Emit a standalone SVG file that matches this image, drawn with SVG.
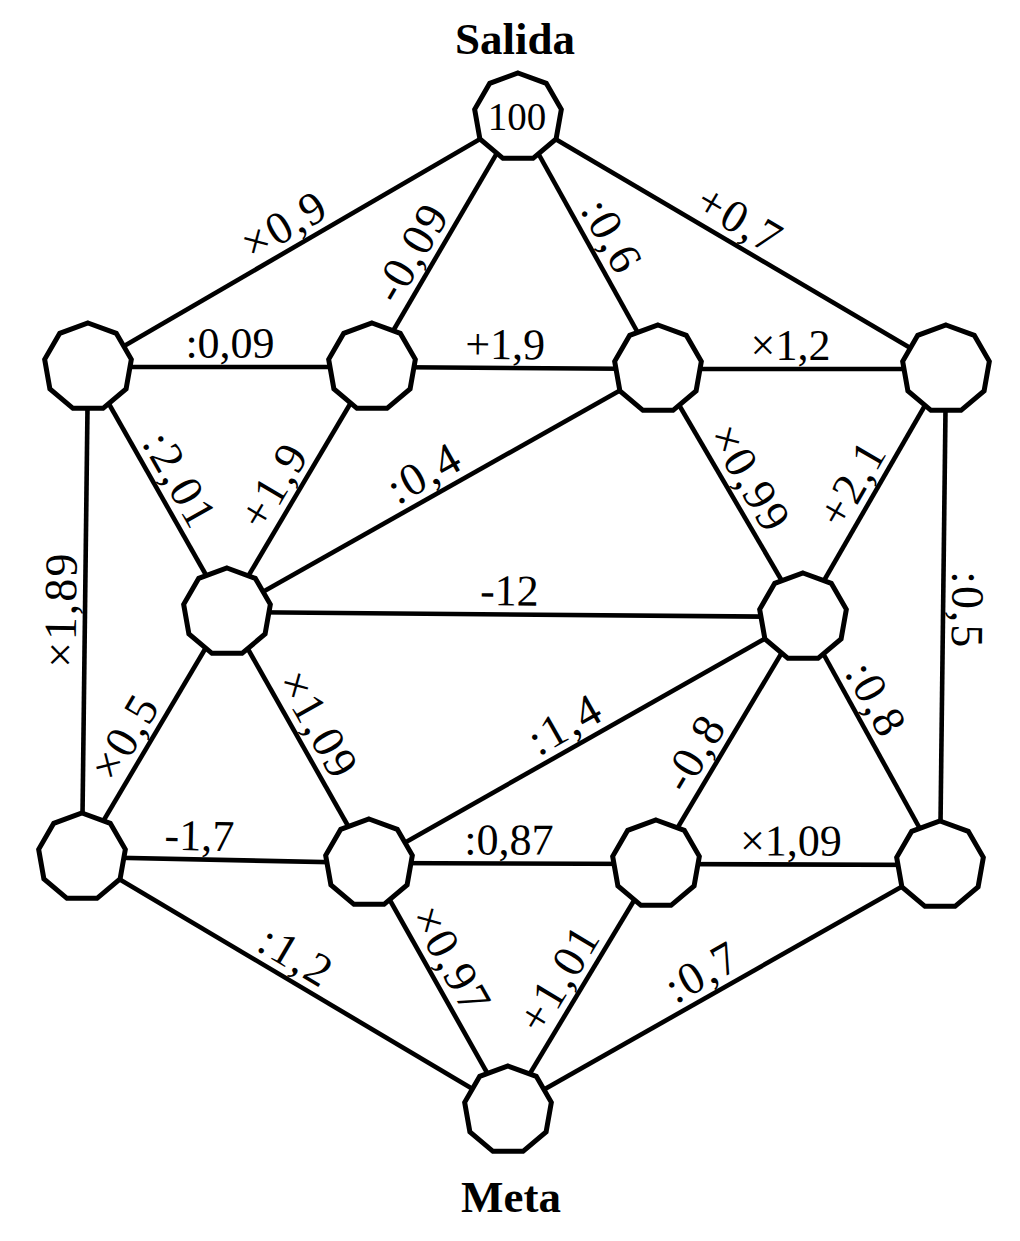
<svg xmlns="http://www.w3.org/2000/svg" xmlns:xlink="http://www.w3.org/1999/xlink" width="1020" height="1241" viewBox="0 0 1020 1241">
<style>
.edge{stroke:#000;stroke-width:4.6;fill:none;stroke-linecap:butt}
.node{fill:#fff;stroke:#000;stroke-width:5;stroke-linejoin:miter}
.lbl{font-family:"Liberation Serif","Times New Roman",serif;font-size:44px;fill:#000;text-anchor:middle}
.rot{font-size:46px;letter-spacing:2px}
.title{font-family:"Liberation Serif","Times New Roman",serif;font-size:45px;font-weight:bold;fill:#000;text-anchor:middle}
.num{font-family:"Liberation Serif","Times New Roman",serif;font-size:39px;fill:#000;text-anchor:middle}
</style>
<defs>
<polygon id="nona" points="0,-44 28.28,-33.71 43.33,-7.64 38.11,22 15.05,41.35 -15.05,41.35 -38.11,22 -43.33,-7.64 -28.28,-33.71"/>
</defs>
<rect width="1020" height="1241" fill="#fff"/>
<g id="connectors">
<line class="edge" x1="518" y1="117" x2="88" y2="367"/>
<line class="edge" x1="518" y1="117" x2="372" y2="367"/>
<line class="edge" x1="518" y1="117" x2="658" y2="369"/>
<line class="edge" x1="518" y1="117" x2="946" y2="369"/>
<line class="edge" x1="88" y1="367" x2="372" y2="367"/>
<line class="edge" x1="372" y1="367" x2="658" y2="369"/>
<line class="edge" x1="658" y1="369" x2="946" y2="369"/>
<line class="edge" x1="88" y1="367" x2="227" y2="612"/>
<line class="edge" x1="372" y1="367" x2="227" y2="612"/>
<line class="edge" x1="658" y1="369" x2="227" y2="612"/>
<line class="edge" x1="88" y1="367" x2="82" y2="857"/>
<line class="edge" x1="658" y1="369" x2="803" y2="617"/>
<line class="edge" x1="946" y1="369" x2="803" y2="617"/>
<line class="edge" x1="946" y1="369" x2="940" y2="865"/>
<line class="edge" x1="227" y1="612" x2="803" y2="617"/>
<line class="edge" x1="227" y1="612" x2="82" y2="857"/>
<line class="edge" x1="227" y1="612" x2="369" y2="863"/>
<line class="edge" x1="803" y1="617" x2="369" y2="863"/>
<line class="edge" x1="803" y1="617" x2="656" y2="864"/>
<line class="edge" x1="803" y1="617" x2="940" y2="865"/>
<line class="edge" x1="82" y1="857" x2="369" y2="863"/>
<line class="edge" x1="369" y1="863" x2="656" y2="864"/>
<line class="edge" x1="656" y1="864" x2="940" y2="865"/>
<line class="edge" x1="82" y1="857" x2="508" y2="1110"/>
<line class="edge" x1="369" y1="863" x2="508" y2="1110"/>
<line class="edge" x1="656" y1="864" x2="508" y2="1110"/>
<line class="edge" x1="940" y1="865" x2="508" y2="1110"/>
</g>
<g id="edge-labels">
<text class="lbl rot" transform="translate(296.6,245.8) rotate(-30.17)" y="-9">×0,9</text>
<text class="lbl rot" transform="translate(431.9,264.5) rotate(-59.71)" y="-9">-0,09</text>
<text class="lbl rot" transform="translate(590.8,248) rotate(60.94)" y="-9">:0,6</text>
<text class="lbl rot" transform="translate(727.7,240.5) rotate(30.49)" y="-9">+0,7</text>
<text class="lbl" transform="translate(230,367)" y="-9">:0,09</text>
<text class="lbl" transform="translate(505,368) rotate(0.4)" y="-9">+1,9</text>
<text class="lbl" transform="translate(790.5,369)" y="-9">×1,2</text>
<text class="lbl rot" transform="translate(158.9,492) rotate(60.43)" y="-9">:2,01</text>
<text class="lbl rot" transform="translate(294.6,497.8) rotate(-59.38)" y="-9">+1,9</text>
<text class="lbl rot" transform="translate(436,494.1) rotate(-29.42)" y="-9">:0,4</text>
<text class="lbl rot" transform="translate(85,610) rotate(-89.3)" y="-9">×1,89</text>
<text class="lbl rot" transform="translate(729.1,490.5) rotate(59.68)" y="-9">×0,99</text>
<text class="lbl rot" transform="translate(873.1,495.5) rotate(-60.03)" y="-9">+2,1</text>
<text class="lbl rot" transform="translate(943.1,610) rotate(90.69)" y="-9">:0,5</text>
<text class="lbl" transform="translate(509.2,614.5) rotate(0.5)" y="-9">-12</text>
<text class="lbl rot" transform="translate(145.8,749.2) rotate(-59.38)" y="-9">×0,5</text>
<text class="lbl rot" transform="translate(297.4,736.5) rotate(60.5)" y="-9">×1,09</text>
<text class="lbl rot" transform="translate(576.9,745.2) rotate(-29.54)" y="-9">:1,4</text>
<text class="lbl rot" transform="translate(714.8,765.2) rotate(-59.24)" y="-9">-0,8</text>
<text class="lbl rot" transform="translate(855.1,711.2) rotate(61.08)" y="-9">:0,8</text>
<text class="lbl" transform="translate(199,859.5) rotate(1.2)" y="-9">-1,7</text>
<text class="lbl" transform="translate(508.8,863.5) rotate(0.2)" y="-9">:0,87</text>
<text class="lbl" transform="translate(790.9,864.5) rotate(0.2)" y="-9">×1,09</text>
<text class="lbl rot" transform="translate(283.9,976.9) rotate(30.71)" y="-9">:1,2</text>
<text class="lbl rot" transform="translate(430.2,971.7) rotate(60.63)" y="-9">×0,97</text>
<text class="lbl rot" transform="translate(579.6,990.9) rotate(-58.97)" y="-9">+1,01</text>
<text class="lbl rot" transform="translate(714.1,993.1) rotate(-29.56)" y="-9">:0,7</text>
</g>
<g id="node-salida"><use xlink:href="#nona" href="#nona" class="node" x="518" y="117"/><text class="num" x="517" y="130">100</text></g>
<g id="node-a"><use xlink:href="#nona" href="#nona" class="node" x="88" y="367"/></g>
<g id="node-b"><use xlink:href="#nona" href="#nona" class="node" x="372" y="367"/></g>
<g id="node-c"><use xlink:href="#nona" href="#nona" class="node" x="658" y="369"/></g>
<g id="node-d"><use xlink:href="#nona" href="#nona" class="node" x="946" y="369"/></g>
<g id="node-e"><use xlink:href="#nona" href="#nona" class="node" x="227" y="612"/></g>
<g id="node-f"><use xlink:href="#nona" href="#nona" class="node" x="803" y="617"/></g>
<g id="node-g"><use xlink:href="#nona" href="#nona" class="node" x="82" y="857"/></g>
<g id="node-h"><use xlink:href="#nona" href="#nona" class="node" x="369" y="863"/></g>
<g id="node-i"><use xlink:href="#nona" href="#nona" class="node" x="656" y="864"/></g>
<g id="node-j"><use xlink:href="#nona" href="#nona" class="node" x="940" y="865"/></g>
<g id="node-meta"><use xlink:href="#nona" href="#nona" class="node" x="508" y="1110"/></g>
<g id="titles">
<text class="title" x="515" y="54">Salida</text>
<text class="title" x="511" y="1212">Meta</text>
</g>
</svg>
